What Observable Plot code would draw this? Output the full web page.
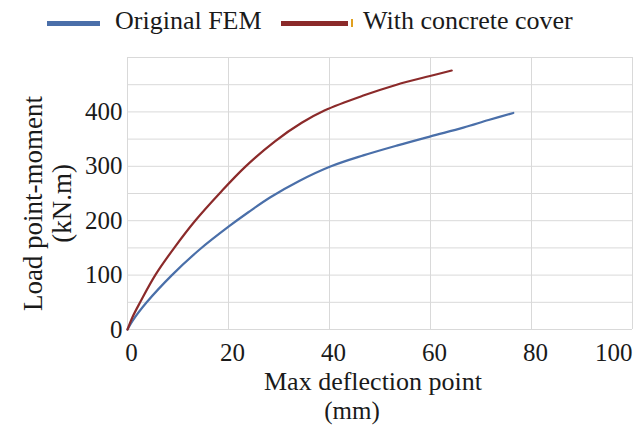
<!DOCTYPE html>
<html>
<head>
<meta charset="utf-8">
<script src="https://cdn.jsdelivr.net/npm/d3@7"></script>
<script src="https://cdn.jsdelivr.net/npm/@observablehq/plot@0.6"></script>
<style>
  html, body { margin: 0; padding: 0; background: #ffffff; }
  body { width: 635px; height: 430px; overflow: hidden; font-family: "Liberation Serif", Tinos, "Times New Roman", "DejaVu Serif", serif; color: #1a1a1a; }
  #legend { position: relative; width: 635px; height: 45px; }
  #legend .sw { position: absolute; height: 5px; top: 21px; }
  #legend .lb { position: absolute; top: 8px; font-size: 26px; line-height: 26px; white-space: nowrap; }
  #legend .mk { position: absolute; left: 351px; top: 19px; width: 2px; height: 8px; background: #e0a020; }
  #chart svg { display: block; }
</style>
</head>
<body>
<div id="legend"></div>
<div id="chart"></div>
<script>
// ---- data ----
const seriesNames = ["Original FEM", "With concrete cover"];
const seriesColors = ["#4a6fa9", "#8b2a2a"];

const femX = [0, 1, 3.8, 8.8, 14.4, 20, 24, 28.3, 34, 40.3, 46.7, 53.3, 60, 66.5, 71.5, 76.4];
const femY = [0, 16, 50, 100, 148, 189, 216, 243, 273, 300, 320, 338, 355, 371, 385, 398];

const coverX = [0, 1, 2.5, 5.5, 9.4, 13.4, 18.4, 23.3, 29.2, 34.5, 39.1, 46.7, 53.3, 59.9, 64.2];
const coverY = [0, 23, 50, 100, 152, 200, 252, 299, 346, 380, 403, 430, 450, 466, 476];

const xTicks = [0, 20, 40, 60, 80, 100];
const yTicks = [0, 100, 200, 300, 400];
const xGrid = [0, 20, 40, 60, 80, 100];
const yGrid = [0, 50, 100, 150, 200, 250, 300, 350, 400, 450, 500];

const xTitle = "Max deflection point";
const xUnit = "(mm)";
const yTitle = "Load point-moment\n(kN.m)";

// ---- table for the library ----
const rows = [
  ...femX.map((x, i) => ({x, y: femY[i], s: seriesNames[0]})),
  ...coverX.map((x, i) => ({x, y: coverY[i], s: seriesNames[1]}))
];

// ---- legend (HTML, above the SVG) ----
const legend = document.getElementById("legend");
const legendLayout = [
  {sw: 47, w: 53, lb: 115},
  {sw: 281, w: 67, lb: 363}
];
seriesNames.forEach((name, i) => {
  const s = document.createElement("div");
  s.className = "sw";
  s.style.left = legendLayout[i].sw + "px";
  s.style.width = legendLayout[i].w + "px";
  s.style.background = seriesColors[i];
  legend.appendChild(s);
  if (i === 1) {
    const m = document.createElement("div");
    m.className = "mk";
    legend.appendChild(m);
  }
  const t = document.createElement("div");
  t.className = "lb";
  t.style.left = legendLayout[i].lb + "px";
  t.textContent = name;
  legend.appendChild(t);
});

// ---- chart ----
const grid = "#d9d9d9";
const serif = "'Liberation Serif', Tinos, 'Times New Roman', 'DejaVu Serif', serif";
const chart = Plot.plot({
  width: 635,
  height: 385,
  marginTop: 12,
  marginBottom: 101,
  marginLeft: 127,
  marginRight: 3,
  x: {domain: [0, 100]},
  y: {domain: [0, 500]},
  color: {domain: seriesNames, range: seriesColors},
  style: {fontFamily: serif, color: "#1a1a1a", background: "#ffffff"},
  marks: [
    Plot.ruleX(xGrid, {x: d => d, stroke: grid, strokeWidth: 1}),
    Plot.ruleY(yGrid, {y: d => d, stroke: grid, strokeWidth: 1}),
    Plot.axisX({ticks: xTicks, tickSize: 0, tickPadding: 14, fontSize: 25, dx: 4, label: null}),
    Plot.axisY({ticks: yTicks, tickSize: 0, tickPadding: 5, fontSize: 25, label: null}),
    Plot.line(rows, {x: "x", y: "y", z: "s", stroke: "s", strokeWidth: 2.2, curve: "catmull-rom"}),
    Plot.text([xTitle], {text: d => d, frameAnchor: "bottom", lineAnchor: "middle", dy: 52, dx: -7, fontSize: 26}),
    Plot.text([xUnit], {text: d => d, frameAnchor: "bottom", lineAnchor: "middle", dy: 81, dx: -28, fontSize: 25}),
    Plot.text([yTitle], {text: d => d, frameAnchor: "left", textAnchor: "middle", rotate: -90, lineAnchor: "middle", lineHeight: 1.07, dx: -80, dy: 10, fontSize: 27})
  ]
});
document.getElementById("chart").appendChild(chart);

// keep the last x tick label inside the picture, as in the reference
const xLabels = d3.select(chart).selectAll("g[aria-label='x-axis tick label'] text").nodes();
if (xLabels.length) {
  const last = xLabels[xLabels.length - 1];
  last.setAttribute("text-anchor", "end");
  last.setAttribute("dx", "-4");
}
</script>
</body>
</html>
